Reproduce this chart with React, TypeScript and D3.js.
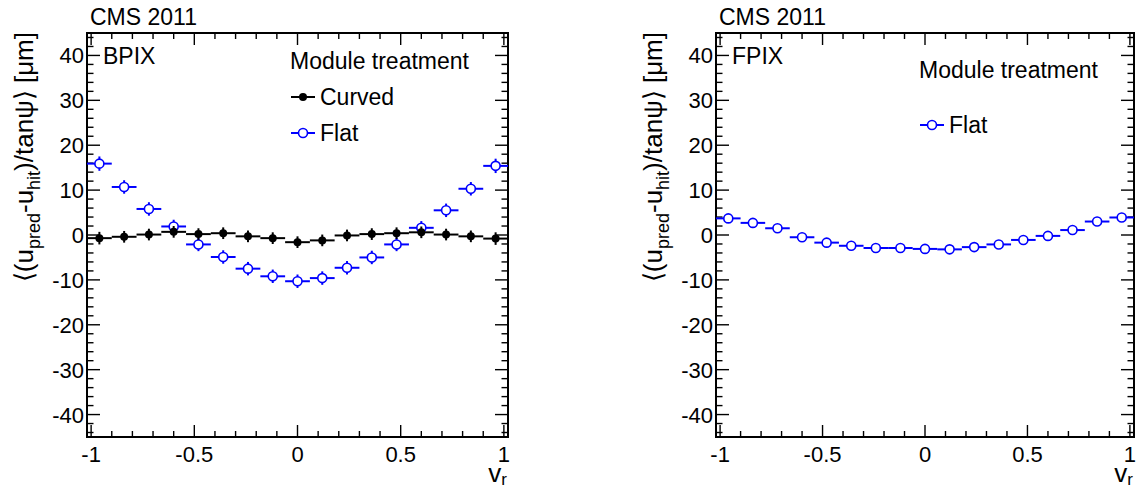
import React from 'react';
import * as d3 from 'd3';

// ---- data ----
const binCenters = [-0.96, -0.84, -0.72, -0.6, -0.48, -0.36, -0.24, -0.12, 0, 0.12, 0.24, 0.36, 0.48, 0.6, 0.72, 0.84, 0.96];
const binHalfWidth = 0.06;

const bpixCurved = [-0.7, -0.4, 0.1, 0.7, 0.2, 0.4, -0.3, -0.7, -1.6, -1.2, -0.1, 0.2, 0.4, 0.6, 0.1, -0.3, -0.8];
const bpixCurvedErr = [1.4, 1.3, 1.3, 1.3, 1.3, 1.3, 1.3, 1.3, 1.3, 1.3, 1.3, 1.3, 1.3, 1.3, 1.3, 1.3, 1.4];
const bpixFlat = [15.9, 10.7, 5.8, 1.9, -2.1, -4.9, -7.5, -9.2, -10.3, -9.6, -7.3, -5.0, -2.1, 1.6, 5.5, 10.3, 15.4];
const bpixFlatErr = [1.6, 1.5, 1.5, 1.5, 1.5, 1.5, 1.5, 1.5, 1.5, 1.5, 1.5, 1.5, 1.5, 1.5, 1.5, 1.5, 1.6];
const fpixFlat = [3.7, 2.7, 1.5, -0.5, -1.7, -2.4, -2.9, -2.9, -3.1, -3.2, -2.7, -2.1, -1.1, -0.2, 1.1, 3.0, 3.9];
const fpixFlatErr = [0.4, 0.3, 0.3, 0.3, 0.3, 0.3, 0.3, 0.3, 0.3, 0.3, 0.3, 0.3, 0.3, 0.3, 0.3, 0.3, 0.4];

const xTickLabels = [-1, -0.5, 0, 0.5, 1];
const yTickLabels = [-40, -30, -20, -10, 0, 10, 20, 30, 40];
const xDomain = [-1.02, 1.02];
const yDomain = [-45, 45];

const FONT = "'Liberation Sans', Arial, Helvetica, sans-serif";
const BLUE = '#0000ff';
const W = 1137;
const H = 490;

type Series = { values: number[]; errors: number[]; color: string; filled: boolean; name: string };

function Panel(props: {
  x0: number; x1: number; tag: string; series: Series[];
  legendX: number; legendTitleY: number; legendRows: number[];
}) {
  const { x0, x1, tag, series, legendX, legendTitleY, legendRows } = props;
  const y0 = 33, y1 = 437;
  const xs = d3.scaleLinear().domain(xDomain).range([x0, x1]);
  const ys = d3.scaleLinear().domain(yDomain).range([y1, y0]);
  const xMinor = d3.range(-10, 11).map((d) => d / 10).filter((d) => !xTickLabels.includes(d));
  const yMinor = d3.range(-22, 23).map((d) => d * 2).filter((d) => !yTickLabels.includes(d));
  const fs = 22;
  const ts = 23;
  const fmt = (d: number) => (d === 0 ? '0' : String(d));
  return (
    <g fontFamily={FONT}>
      {/* ticks */}
      <g stroke="#000" strokeWidth={1.4}>
        {xTickLabels.map((d) => (
          <g key={'xM' + d}>
            <line x1={xs(d)} x2={xs(d)} y1={y1} y2={y1 - 12} />
            <line x1={xs(d)} x2={xs(d)} y1={y0} y2={y0 + 12} />
          </g>
        ))}
        {xMinor.map((d) => (
          <g key={'xm' + d}>
            <line x1={xs(d)} x2={xs(d)} y1={y1} y2={y1 - 6} />
            <line x1={xs(d)} x2={xs(d)} y1={y0} y2={y0 + 6} />
          </g>
        ))}
        {yTickLabels.map((d) => (
          <g key={'yM' + d}>
            <line x1={x0} x2={x0 + 13} y1={ys(d)} y2={ys(d)} />
            <line x1={x1} x2={x1 - 13} y1={ys(d)} y2={ys(d)} />
          </g>
        ))}
        {yMinor.map((d) => (
          <g key={'ym' + d}>
            <line x1={x0} x2={x0 + 6.5} y1={ys(d)} y2={ys(d)} />
            <line x1={x1} x2={x1 - 6.5} y1={ys(d)} y2={ys(d)} />
          </g>
        ))}
      </g>
      <rect x={x0} y={y0} width={x1 - x0} height={y1 - y0} fill="none" stroke="#000" strokeWidth={2} />
      {/* tick labels */}
      {xTickLabels.map((d) => (
        <text key={'xl' + d} x={xs(d)} y={462} fontSize={fs} textAnchor="middle">{fmt(d)}</text>
      ))}
      {yTickLabels.map((d) => (
        <text key={'yl' + d} x={x0 - 3} y={ys(d) + 8} fontSize={fs} textAnchor="end">{fmt(d)}</text>
      ))}
      {/* axis titles */}
      <text x={x1 - 1} y={482} fontSize={26} textAnchor="end">
        v<tspan fontSize={17} dy={3}>r</tspan>
      </text>
      <text transform={`translate(${x0 - 54},${y0 - 1}) rotate(-90)`} fontSize={26} textAnchor="end">
        ⟨(u<tspan fontSize={18} dy={7}>pred</tspan><tspan dy={-7}>-u</tspan>
        <tspan fontSize={18} dy={7}>hit</tspan><tspan dy={-7}>)/tanψ⟩ [μm]</tspan>
      </text>
      <text x={x0 + 3} y={25} fontSize={ts}>CMS 2011</text>
      <text x={x0 + 16} y={64} fontSize={ts}>{tag}</text>
      {/* data */}
      {series.map((s) => (
        <g key={s.name}>
          {s.values.map((v, i) => {
            const cx = xs(binCenters[i]);
            const cy = ys(v);
            return (
              <g key={i} stroke={s.color} strokeWidth={2}>
                <line x1={xs(binCenters[i] - binHalfWidth)} x2={xs(binCenters[i] + binHalfWidth)} y1={cy} y2={cy} />
                <line x1={cx} x2={cx} y1={ys(v - s.errors[i])} y2={ys(v + s.errors[i])} />
              </g>
            );
          })}
          {s.values.map((v, i) => (
            <circle key={'m' + i} cx={xs(binCenters[i])} cy={ys(v)} r={s.filled ? 4 : 4.5}
              fill={s.filled ? s.color : '#fff'} stroke={s.color} strokeWidth={s.filled ? 0 : 1.6} />
          ))}
        </g>
      ))}
      {/* legend */}
      <text x={legendX} y={legendTitleY} fontSize={ts}>Module treatment</text>
      {series.map((s, k) => {
        const ly = legendRows[k];
        const mx = legendX + 13;
        return (
          <g key={'lg' + s.name}>
            <line x1={mx - 12} x2={mx + 12} y1={ly} y2={ly} stroke={s.color} strokeWidth={2} />
            <circle cx={mx} cy={ly} r={s.filled ? 4 : 4.5} fill={s.filled ? s.color : '#fff'}
              stroke={s.color} strokeWidth={s.filled ? 0 : 1.6} />
            <text x={mx + 17} y={ly + 8} fontSize={ts}>{s.name}</text>
          </g>
        );
      })}
    </g>
  );
}

export default function App() {
  const flatB: Series = { values: bpixFlat, errors: bpixFlatErr, color: BLUE, filled: false, name: 'Flat' };
  const curvedB: Series = { values: bpixCurved, errors: bpixCurvedErr, color: '#000', filled: true, name: 'Curved' };
  const flatF: Series = { values: fpixFlat, errors: fpixFlatErr, color: BLUE, filled: false, name: 'Flat' };
  return (
    <div>
      <style>{'body{margin:0}'}</style>
      <svg width={W} height={H} style={{ display: 'block', background: '#fff' }}>
        <Panel x0={87} x1={508} tag="BPIX" series={[flatB, curvedB]} legendX={290}
          legendTitleY={69} legendRows={[133, 97]} />
        <Panel x0={716} x1={1134} tag="FPIX" series={[flatF]} legendX={919}
          legendTitleY={78} legendRows={[125]} />
      </svg>
    </div>
  );
}
